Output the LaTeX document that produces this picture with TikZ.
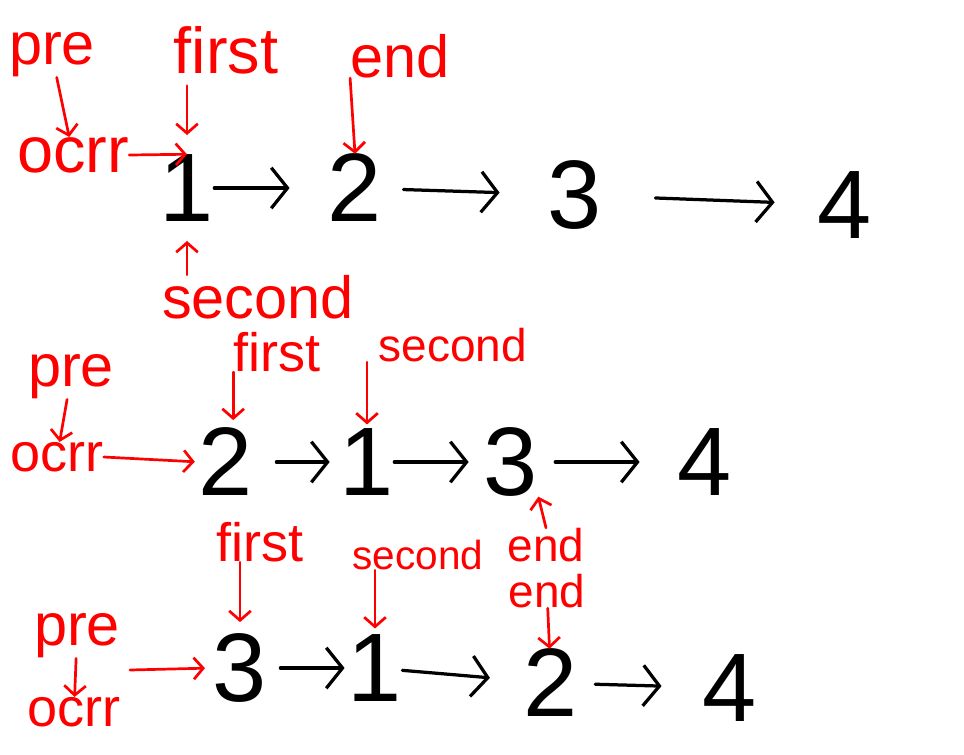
\documentclass[tikz,border=0pt]{standalone}
\usepackage{fontspec}
\setmainfont{Liberation Sans}
\usetikzlibrary{arrows.meta,positioning}

\begin{document}
\begin{tikzpicture}[
  x=0.026cm, y=-0.026cm,
  every node/.style={inner sep=0pt},
  num/.style={font=\fontsize{72}{72}\selectfont},
  lab/.style={text=red, font=\fontsize{#1}{#1}\selectfont},
  lab/.default=42pt,
  link/.style={-{Straight Barb[length=12pt,width=30pt]}, line width=2.4pt, line cap=round},
  pnt/.style={-{Straight Barb[length=7pt,width=16pt]}, red, line width=2pt, line cap=round}
]
  \useasboundingbox (0,0) rectangle (964,755);

  \node[num] (a1) at (187,188) {1};
  \node[num] (a2) at (355,188) {2};
  \node[num] (a3) at (575,195) {3};
  \node[num] (a4) at (845,205) {4};
  \draw[link, shorten >=0.99cm] (a1) -- (a2);
  \draw[link, shorten <=0.55cm, shorten >=1.25cm] (a2) -- (a3);
  \draw[link, shorten <=1.38cm, shorten >=1.12cm] (a3) -- (a4);

  \node[lab=44pt] (pre1) at (52,55) {pre};
  \node[lab=48pt] (ocrr1) at (73,155) {ocrr};
  \node[lab=48pt] (first1) at (226,50) {first};
  \node[lab=44pt] (end1) at (400,56) {end};
  \node[lab=44pt] (second1) at (258,297) {second};
  \draw[pnt] (pre1) -- (ocrr1);
  \draw[pnt] (ocrr1.east) -- (a1.north);
  \draw[pnt, shorten <=0.3cm, shorten >=0.5cm] (first1.south -| a1.north) -- (a1.north);
  \draw[pnt] (end1.south west) -- (a2.north);
  \draw[pnt, shorten >=0.5cm] (second1.north -| a1.south) -- (a1.south);

  \node[num] (b1) at (226,462) {2};
  \node[num] (b2) at (367,462) {1};
  \node[num] (b3) at (511,462) {3};
  \node[num] (b4) at (705,462) {4};
  \draw[link, shorten <=0.6cm, shorten >=0.26cm] (b1) -- (b2);
  \draw[link, shorten >=0.39cm] (b2) -- (b3);
  \draw[link, shorten <=0.44cm, shorten >=0.99cm] (b3) -- (b4);

  \node[lab=44pt] (pre2) at (71,377) {pre};
  \node[lab=40pt] (ocrr2) at (57,457) {ocrr};
  \node[lab=40pt] (first2) at (277,352) {first};
  \node[lab=34pt] (second2) at (453,345) {second};
  \node[lab=34pt] (end2) at (546,545) {end};
  \draw[pnt] (pre2) -- (ocrr2);
  \draw[pnt, shorten >=0.1cm] (ocrr2.east) -- (b1.west);
  \draw[pnt, shorten >=0.2cm] (first2.south west) -- (first2.south west |- b1.north);
  \draw[pnt, shorten >=0.1cm] (second2.south -| b2.north) -- (b2.north);
  \draw[pnt] (end2.north) -- (b3.south east);

  \node[num] (c1) at (240,668) {3};
  \node[num] (c2) at (375,668) {1};
  \node[num] (c3) at (551,683) {2};
  \node[num] (c4) at (730,688) {4};
  \draw[link, shorten <=0.34cm, shorten >=0.08cm] (c1) -- (c2);
  \draw[link, shorten >=0.88cm] (c2) -- (c3);
  \draw[link, shorten <=0.44cm, shorten >=1.07cm] (c3) -- (c4);

  \node[lab=44pt] (pre3) at (77,636) {pre};
  \node[lab=40pt] (ocrr3) at (74,712) {ocrr};
  \node[lab=40pt] (first3) at (260,542) {first};
  \node[lab=30pt] (second3) at (418,555) {second};
  \node[lab=34pt] (end3) at (547,591) {end};
  \coordinate (tail3) at (130,670);
  \draw[pnt] (pre3) -- (ocrr3);
  \draw[pnt, shorten >=0.2cm] (tail3) -- (c1.west);
  \draw[pnt, shorten >=0.29cm] (c1.north |- first3.south) -- (c1.north);
  \draw[pnt, shorten >=0.15cm] (c2.north |- second3.south) -- (c2.north);
  \draw[pnt] (end3) -- (c3);
\end{tikzpicture}
\end{document}
